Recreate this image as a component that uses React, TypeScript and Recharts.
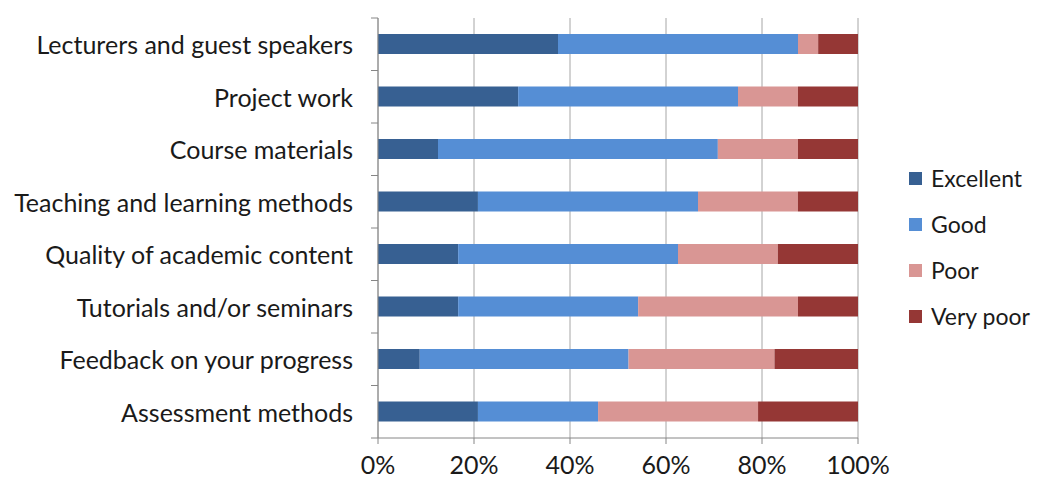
import React from 'react';
import { BarChart, Bar, XAxis, YAxis, CartesianGrid, Legend } from 'recharts';

// Survey items, top to bottom as in the chart
const categories = [
  'Lecturers and guest speakers',
  'Project work',
  'Course materials',
  'Teaching and learning methods',
  'Quality of academic content',
  'Tutorials and/or seminars',
  'Feedback on your progress',
  'Assessment methods',
];

// Share of answers per item (%)
const excellent = [37.5, 29.2, 12.5, 20.8, 16.7, 16.7, 8.7, 20.8];
const good = [50.0, 45.8, 58.3, 45.8, 45.8, 37.5, 43.5, 25.0];
const poor = [4.2, 12.5, 16.7, 20.8, 20.8, 33.3, 30.4, 33.3];
const veryPoor = [8.3, 12.5, 12.5, 12.5, 16.7, 12.5, 17.4, 20.8];

const xTicks = [0, 0.2, 0.4, 0.6, 0.8, 1];

const seriesNames = ['Excellent', 'Good', 'Poor', 'Very poor'];
const seriesColors = ['#376092', '#558ED5', '#D99694', '#953735'];

const data = categories.map((name, i) => ({
  name,
  excellent: excellent[i],
  good: good[i],
  poor: poor[i],
  veryPoor: veryPoor[i],
}));

const FONT = 'Lato, sans-serif';
const FONT_SIZE = 25;
const BAND = 52.5;

// category label plus the small boundary mark Excel draws between bands
const CategoryTick = ({ x, y, payload, index }: any) => (
  <g>
    <line x1={x + 1} x2={x + 8} y1={y - BAND / 2} y2={y - BAND / 2} stroke="#868686" />
    {index === categories.length - 1 && (
      <line x1={x + 1} x2={x + 8} y1={y + BAND / 2} y2={y + BAND / 2} stroke="#868686" />
    )}
    <text x={x - 17} y={y} textAnchor="end" dominantBaseline="central" fontSize={FONT_SIZE} fill="#1a1a1a" fontFamily={FONT}>
      {payload.value}
    </text>
  </g>
);

const LegendContent = () => (
  <div style={{ fontFamily: FONT, fontSize: 23, color: '#1a1a1a', whiteSpace: 'nowrap' }}>
    {seriesNames.map((n, i) => (
      <div key={n} style={{ display: 'flex', alignItems: 'center', height: 46 }}>
        <span style={{ width: 13, height: 13, background: seriesColors[i], marginRight: 9, display: 'inline-block' }} />
        {n}
      </div>
    ))}
  </div>
);

export default function App() {
  return (
    // pinned to the window corner so chart coordinates equal page coordinates
    <div style={{ position: 'fixed', left: 0, top: 0, width: 1041, height: 481, background: '#fff' }}>
      <BarChart
        width={1041}
        height={481}
        data={data}
        layout="vertical"
        stackOffset="expand"
        barSize={20}
        margin={{ top: 18, right: 183, bottom: 13, left: 0 }}
      >
        <CartesianGrid horizontal={false} stroke="#A6A6A6" />
        <XAxis
          type="number"
          domain={[0, 1]}
          ticks={xTicks}
          tickFormatter={(v: number) => `${Math.round(v * 100)}%`}
          stroke="#868686"
          tickSize={6}
          height={30}
          tick={{ fontSize: FONT_SIZE, fill: '#1a1a1a', fontFamily: FONT }}
          tickMargin={12}
          allowDataOverflow
        />
        <YAxis
          type="category"
          dataKey="name"
          width={378}
          stroke="#868686"
          tickLine={false}
          tick={<CategoryTick />}
          interval={0}
        />
        <Bar dataKey="excellent" name="Excellent" stackId="a" fill={seriesColors[0]} isAnimationActive={false} />
        <Bar dataKey="good" name="Good" stackId="a" fill={seriesColors[1]} isAnimationActive={false} />
        <Bar dataKey="poor" name="Poor" stackId="a" fill={seriesColors[2]} isAnimationActive={false} />
        <Bar dataKey="veryPoor" name="Very poor" stackId="a" fill={seriesColors[3]} isAnimationActive={false} />
        <Legend
          layout="vertical"
          align="center"
          verticalAlign="middle"
          content={<LegendContent />}
          wrapperStyle={{ left: 909, top: 155, width: 132 }}
        />
      </BarChart>
    </div>
  );
}
